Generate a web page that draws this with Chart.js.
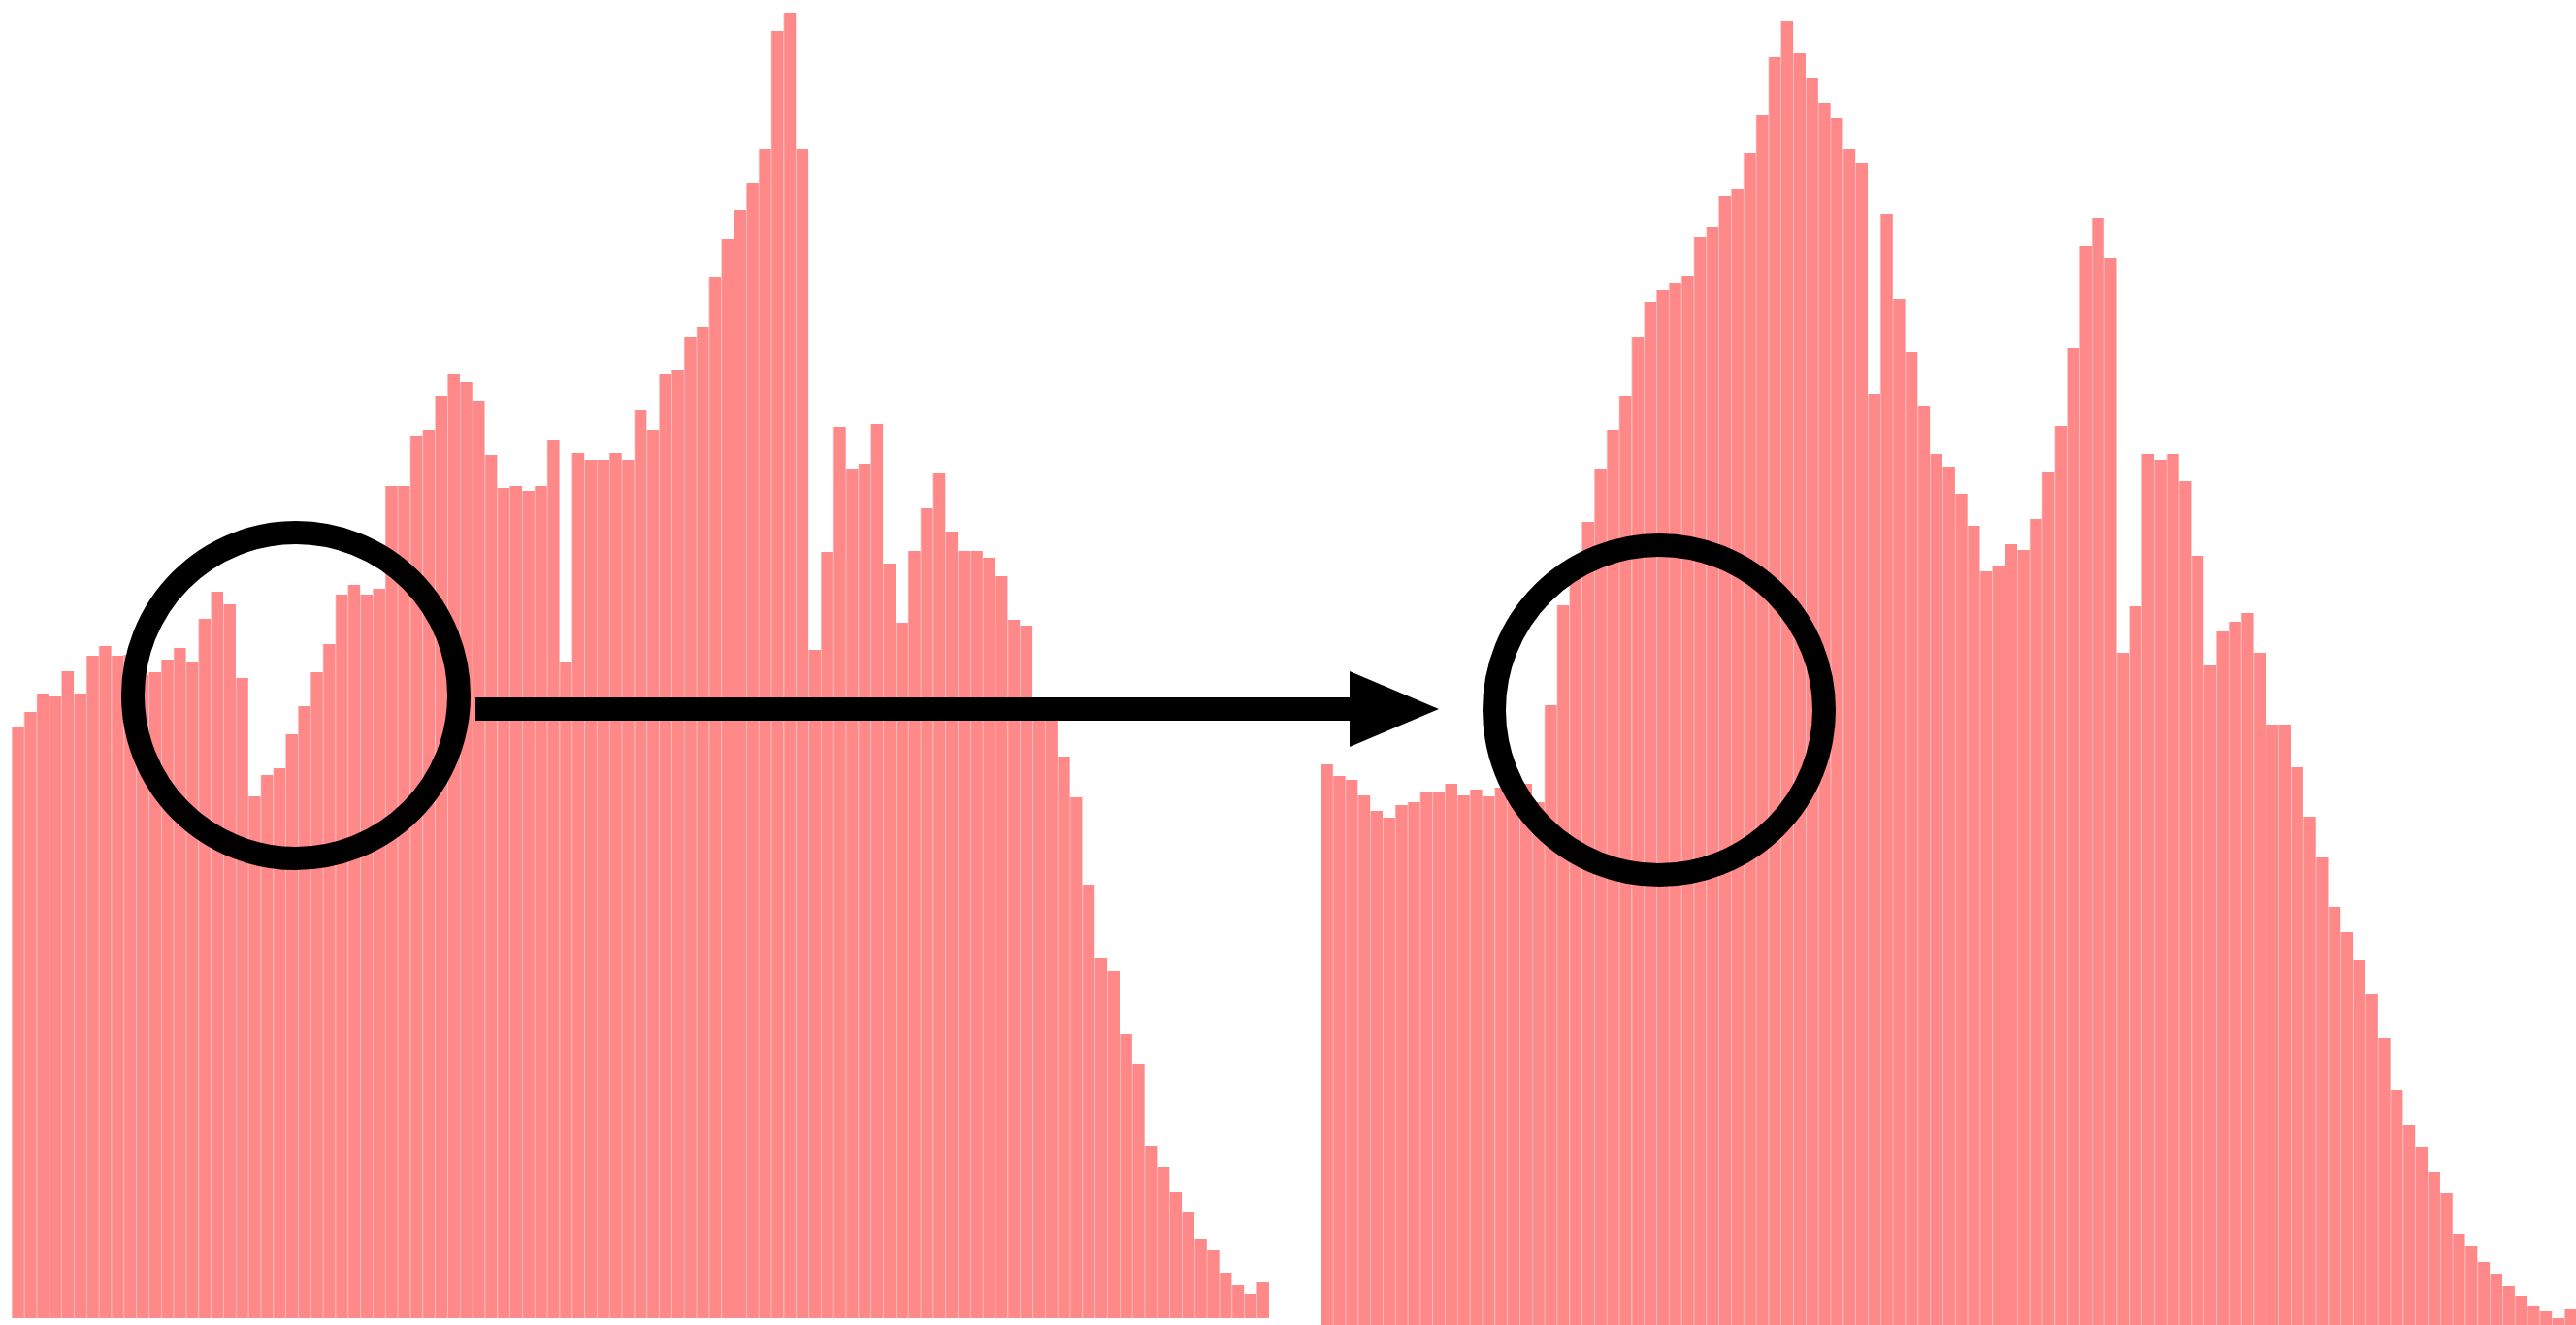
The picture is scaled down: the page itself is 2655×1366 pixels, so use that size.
<!DOCTYPE html>
<html>
<head>
<meta charset="utf-8">
<title>Histogram before / after</title>
<script src="https://cdn.jsdelivr.net/npm/chart.js@4.4.1/dist/chart.umd.min.js"></script>
<style>
    html, body { margin: 0; padding: 0; background: #fff; overflow: hidden; }
    body { width: 2655px; height: 1366px; position: relative; }
    canvas { position: absolute; top: 0; }
    #before-chart { left: 12px; }
    #after-chart { left: 1361px; }
    #marks { position: absolute; left: 0; top: 0; }
</style>
</head>
<body>
<canvas id="before-chart" width="1296" height="1359"></canvas>
<canvas id="after-chart" width="1295" height="1366"></canvas>

<svg id="marks" width="2655" height="1366">
    <circle cx="305" cy="717" r="168" fill="none" stroke="#000" stroke-width="24"/>
    <circle cx="1710" cy="732" r="170" fill="none" stroke="#000" stroke-width="24"/>
    <rect x="490" y="719" width="904" height="24" fill="#000"/>
    <polygon points="1391,692 1483,731 1391,770" fill="#000"/>
</svg>

<script>
// 101 bins in each histogram
const bins = Array.from({ length: 101 }, (_, i) => i);

// counts per bin, original histogram
const beforeCounts = [
    609, 625, 644, 641, 667, 644, 683, 693, 683, 684,
    663, 666, 679, 691, 676, 721, 749, 736, 660, 538,
    560, 567, 602, 631, 666, 695, 746, 756, 746, 752,
    858, 858, 909, 916, 951, 973, 965, 946, 890, 856,
    858, 853, 858, 905, 677, 892, 885, 885, 892, 885,
    936, 916, 973, 978, 1012, 1022, 1073, 1113, 1143, 1170,
    1205, 1327, 1346, 1205, 689, 790, 919, 875, 881, 922,
    778, 717, 791, 835, 871, 811, 791, 791, 784, 765,
    720, 714, 637, 640, 579, 537, 447, 371, 358, 293,
    262, 178, 156, 130, 110, 82, 70, 47, 34, 25,
    37
];

// counts per bin, corrected histogram
const afterCounts = [
    578, 566, 562, 546, 530, 523, 536, 539, 549, 549,
    558, 546, 552, 545, 554, 564, 558, 539, 639, 742,
    789, 828, 882, 923, 958, 1019, 1055, 1067, 1074, 1081,
    1122, 1132, 1164, 1171, 1208, 1247, 1307, 1344, 1311, 1286,
    1260, 1244, 1212, 1198, 960, 1145, 1058, 1003, 947, 898,
    885, 857, 824, 777, 783, 805, 799, 831, 879, 927,
    1007, 1112, 1141, 1100, 693, 741, 898, 892, 898, 870,
    793, 680, 715, 725, 734, 693, 619, 619, 575, 524,
    482, 431, 405, 376, 341, 296, 242, 206, 184, 158,
    136, 94, 81, 65, 53, 40, 30, 20, 14, 7,
    16
];

function drawHistogram(canvasId, counts, yMax) {
    const ctx = document.getElementById(canvasId).getContext('2d');
    return new Chart(ctx, {
        type: 'bar',
        data: {
            labels: bins,
            datasets: [{
                data: counts,
                backgroundColor: '#ff8989',
                borderColor: 'rgba(235, 110, 110, 0.35)',
                borderWidth: { left: 1, right: 0, top: 0, bottom: 0 },
                categoryPercentage: 1.0,
                barPercentage: 1.0
            }]
        },
        options: {
            responsive: false,
            animation: false,
            events: [],
            layout: { padding: 0 },
            plugins: {
                legend: { display: false },
                tooltip: { enabled: false }
            },
            scales: {
                x: { display: false },
                y: { display: false, min: 0, max: yMax }
            }
        }
    });
}

drawHistogram('before-chart', beforeCounts, 1359);
drawHistogram('after-chart', afterCounts, 1366);
</script>
</body>
</html>
